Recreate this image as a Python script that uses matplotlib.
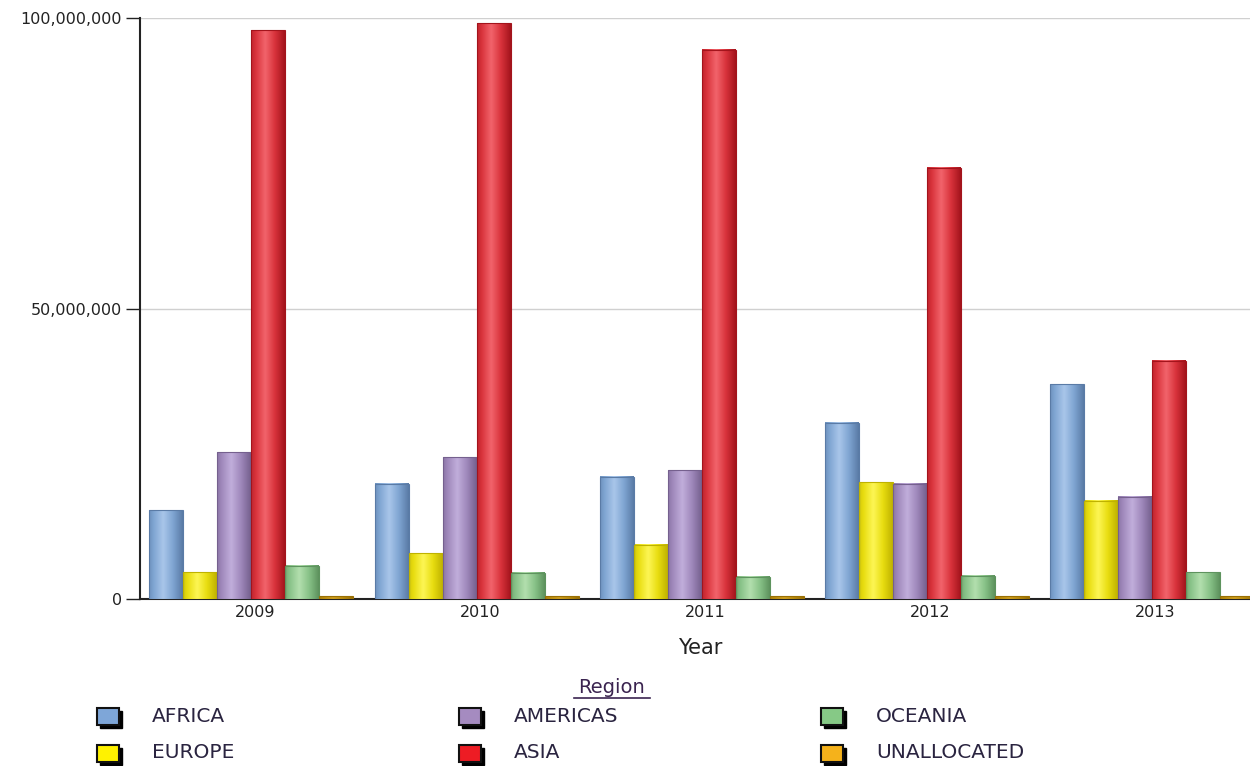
import numpy as np
import matplotlib.pyplot as plt
from matplotlib.patches import Rectangle
from matplotlib.ticker import FuncFormatter
from matplotlib.colors import to_rgb

plt.rcParams['font.family'] = ['DejaVu Sans']

years = ['2009', '2010', '2011', '2012', '2013']
regions = ['AFRICA', 'EUROPE', 'AMERICAS', 'ASIA', 'OCEANIA', 'UNALLOCATED']

africa = [15.3e6, 19.8e6, 21.0e6, 30.3e6, 37.0e6]
europe = [4.6e6, 7.9e6, 9.3e6, 20.1e6, 16.9e6]
americas = [25.3e6, 24.4e6, 22.2e6, 19.8e6, 17.6e6]
asia = [97.9e6, 99.1e6, 94.5e6, 74.2e6, 41.0e6]
oceania = [5.7e6, 4.5e6, 3.8e6, 4.0e6, 4.6e6]
unallocated = [0.5e6, 0.5e6, 0.5e6, 0.5e6, 0.5e6]
series = [africa, europe, americas, asia, oceania, unallocated]

# (edge, mid, highlight) per region for the cylinder shading
shades = {
    'AFRICA': ('#5a7ba6', '#7fa5d2', '#a9c6ea'),
    'EUROPE': ('#bfb200', '#e8dd10', '#fdf655'),
    'AMERICAS': ('#75608e', '#9f88bb', '#c1aedb'),
    'ASIA': ('#a3141c', '#d8323b', '#f2646c'),
    'OCEANIA': ('#5e935e', '#88c288', '#b3dfae'),
    'UNALLOCATED': ('#9a7005', '#b88a0c', '#cf9f1e'),
}
legend_colors = {
    'AFRICA': '#7ea6d8', 'EUROPE': '#fff200', 'AMERICAS': '#a58bc0',
    'ASIA': '#ed1c24', 'OCEANIA': '#86c986', 'UNALLOCATED': '#f5b21b',
}


def gradient(region, n=64):
    dark, mid, light = [np.array(to_rgb(c)) for c in shades[region]]
    t = np.linspace(0, 1, n)
    out = np.zeros((1, n, 3))
    for i, v in enumerate(t):
        # highlight sits a bit left of centre
        d = abs(v - 0.42) / 0.58
        if d < 0.5:
            c = light + (mid - light) * (d / 0.5)
        else:
            c = mid + (dark - mid) * ((d - 0.5) / 0.5)
        out[0, i] = c
    return out


fig = plt.figure(figsize=(12.5, 7.66), dpi=100)
ax = fig.add_axes([0.112, 0.218, 0.888, 0.7585])

x = np.arange(len(years))
bw = 0.151
for j, (name, vals) in enumerate(zip(regions, series)):
    grad = gradient(name)
    for i, v in enumerate(vals):
        left = x[i] - 3 * bw + j * bw - 0.016
        ax.imshow(grad, extent=[left, left + bw, 0, v], aspect='auto',
                  interpolation='bicubic', zorder=6)
        ax.add_patch(Rectangle((left, 0), bw, v, fill=False,
                               edgecolor=shades[name][0], linewidth=0.8, zorder=7))

ax.set_xlim(-0.511, 4.42)
ax.set_ylim(0, 100e6)
ax.set_yticks([0, 50e6, 100e6])
ax.yaxis.set_major_formatter(FuncFormatter(lambda v, p: f'{int(v):,}'))
ax.set_xticks(x)
ax.set_xticklabels(years)
ax.tick_params(axis='y', length=10, width=1, colors='#222222', labelsize=11.5, pad=3)
ax.tick_params(axis='x', length=0, labelsize=11.5, pad=4, labelcolor='#222222')
ax.yaxis.grid(True, color='#d0d0d0', linewidth=1, zorder=0)
ax.set_axisbelow(True)
for side in ['top', 'right']:
    ax.spines[side].set_visible(False)
for side in ['left', 'bottom']:
    ax.spines[side].set_color('#222222')
    ax.spines[side].set_linewidth(1.5)
    ax.spines[side].set_zorder(5)

fig.text(0.56, 0.154, 'Year', ha='center', va='center', fontsize=15, color='#222222')

# legend drawn by hand: title, boxes with drop shadow, labels
fig.text(0.4895, 0.103, 'Region', ha='center', va='center', fontsize=14,
         color='#3b2450')
fig.add_artist(plt.Line2D([0.459, 0.520], [0.0885, 0.0885],
                          transform=fig.transFigure, color='#3b2450', linewidth=1.2))

col_x = [97, 459, 821]
row_y = [716, 753]
for k, name in enumerate(regions):
    col = [0, 0, 1, 1, 2, 2][k]
    row = k % 2
    px, py = col_x[col], row_y[row]
    W, H = 22, 17
    fx, fy = px / 1250, 1 - (py + H / 2) / 766
    fw, fh = W / 1250, H / 766
    fig.add_artist(Rectangle((fx + 3 / 1250, fy - 3 / 766), fw, fh,
                             transform=fig.transFigure, facecolor='black',
                             edgecolor='black'))
    fig.add_artist(Rectangle((fx, fy), fw, fh, transform=fig.transFigure,
                             facecolor=legend_colors[name], edgecolor='#111111',
                             linewidth=1.5))
    fig.text((px + 55) / 1250, 1 - py / 766, name, ha='left', va='center',
             fontsize=14.5, color='#2a2440')

fig.savefig('out.png', dpi=100)
